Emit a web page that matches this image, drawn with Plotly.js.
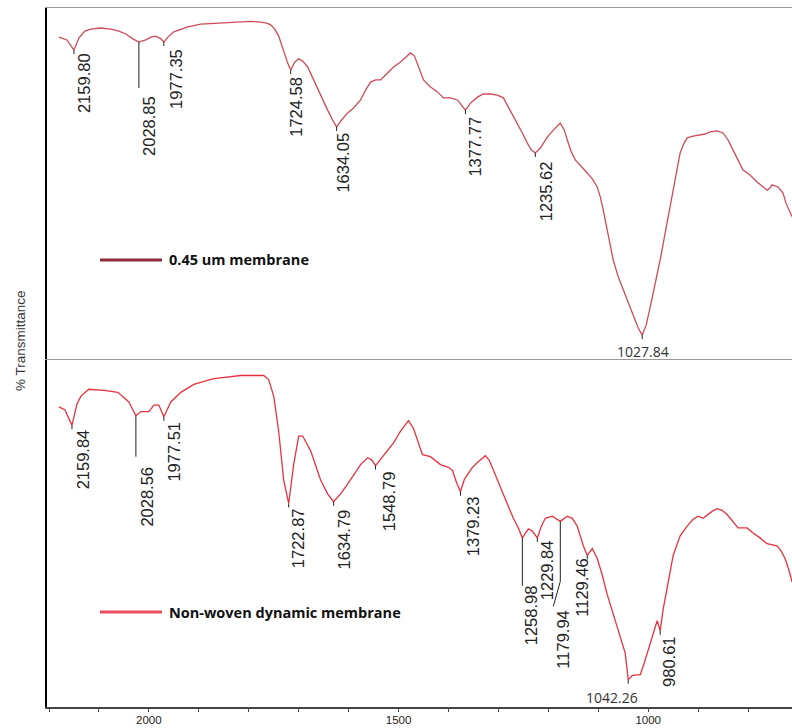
<!DOCTYPE html>
<html>
<head>
<meta charset="utf-8">
<script src="https://cdn.plot.ly/plotly-3.0.1.min.js"></script>
<style>html,body{margin:0;padding:0;background:#fff;}#chart{width:792px;height:728px;}</style>
</head>
<body>
<div id="chart"></div>
<script>
// ---- Spectrum: 0.45 um membrane (top panel) ----
const waveTop = [2180,2164,2150,2140,2128,2116,2096,2076,2060,2046,2032,2020,2006,1996,1986,1976,1970,1962,1950,1936,1922,1896,1866,1830,1796,1776,1764,1756,1748,1740,1730,1722,1716,1708,1700,1692,1682,1672,1662,1652,1642,1632,1624,1614,1602,1590,1576,1566,1556,1546,1536,1522,1510,1496,1486,1476,1468,1460,1450,1436,1422,1410,1396,1382,1372,1366,1356,1342,1330,1316,1302,1290,1276,1262,1252,1242,1234,1226,1216,1202,1190,1176,1168,1162,1154,1146,1134,1122,1112,1102,1096,1090,1080,1070,1060,1050,1040,1030,1020,1012,1004,996,986,976,966,956,946,936,928,922,910,896,886,876,862,850,840,830,820,810,796,782,772,762,756,752,740,730,724,712];
const transTop = [91.7,90.9,88.0,91.5,93.4,94.0,94.3,94.0,93.4,92.6,91.2,90.3,90.9,91.7,92.0,91.2,90.3,91.7,93.2,94.0,94.6,95.4,95.7,96.0,96.2,96.0,95.7,95.2,94.0,92.0,87.5,84.3,82.3,84.6,85.5,84.9,83.2,80.1,76.6,73.8,70.9,68.1,66.1,68.1,70.1,71.5,73.8,76.6,78.9,79.5,79.5,81.5,83.2,84.6,86.0,87.2,86.3,83.5,79.5,77.5,76.1,74.4,74.4,73.8,72.1,70.9,72.9,74.6,75.5,75.5,75.2,74.4,70.7,67.2,64.4,61.5,59.5,58.7,60.1,63.2,65.2,67.2,65.2,62.4,59.0,56.7,55.0,53.0,51.3,49.0,46.2,42.5,35.3,28.2,23.4,19.7,16.0,12.0,8.8,6.8,9.7,14.8,21.1,28.2,35.9,43.3,51.6,58.7,61.5,63.0,63.5,63.8,64.1,64.7,65.0,64.4,62.4,59.5,56.7,53.8,52.4,50.4,49.3,48.1,48.7,49.6,49.0,47.3,44.4,40.5];

// ---- Spectrum: Non-woven dynamic membrane (bottom panel) ----
const waveBot = [2180,2168,2154,2144,2136,2120,2090,2062,2040,2026,2016,2000,1990,1980,1970,1956,1936,1910,1870,1816,1770,1760,1750,1740,1730,1720,1710,1700,1692,1676,1656,1642,1630,1616,1602,1586,1576,1562,1554,1546,1534,1522,1510,1496,1480,1470,1460,1452,1436,1416,1400,1392,1384,1376,1368,1362,1352,1342,1326,1318,1310,1300,1290,1280,1270,1260,1252,1246,1240,1232,1222,1214,1206,1192,1176,1162,1152,1142,1136,1130,1122,1112,1102,1092,1082,1072,1062,1054,1046,1040,1032,1024,1016,1008,1002,992,982,976,970,962,950,936,922,910,900,890,880,872,862,852,842,830,820,810,802,790,776,762,752,742,734,726,718,712];
const transBot = [86.1,85.2,80.7,86.9,89.2,91.2,90.9,90.3,87.5,83.5,84.7,84.7,86.6,86.6,83.2,87.5,90.3,92.6,94.3,95.2,95.2,94.0,89.2,79.0,64.8,58.0,69.3,77.6,77.6,73.3,64.8,60.8,58.5,60.8,63.6,67.0,69.3,71.3,70.7,69.0,71.3,73.3,75.6,79.0,82.1,79.8,75.6,72.2,71.6,69.3,68.5,67.6,64.2,61.4,65.1,66.5,68.5,69.9,71.9,70.5,67.6,64.2,60.8,57.1,53.7,50.9,48.0,49.4,50.6,50.0,48.0,51.4,53.7,54.3,52.8,54.3,53.7,51.4,48.6,45.7,42.9,44.9,42.0,37.2,31.5,26.7,22.2,18.8,14.5,6.8,8.0,8.2,8.2,11.6,14.5,19.3,23.9,21.0,27.3,33.5,42.9,48.6,51.4,53.4,54.3,53.7,54.8,55.7,56.5,56.0,54.8,52.8,50.9,50.9,50.9,49.4,48.0,46.3,46.0,45.7,44.3,42.0,38.6,35.2];

// ---- Peak labels (position of the marked minimum on the drawn axis, label text) ----
const peakPosTop   = [2150, 2020, 1970, 1716, 1624, 1366, 1226, 1012];
const peakTextTop  = ['2159.80','2028.85','1977.35','1724.58','1634.05','1377.77','1235.62','1027.84'];
const peakPosBot   = [2154, 2026, 1970, 1720, 1630, 1546, 1376, 1252, 1222, 1176, 1122, 1040, 976];
const peakTextBot  = ['2159.84','2028.56','1977.51','1722.87','1634.79','1548.79','1379.23','1258.98','1229.84','1179.94','1129.46','1042.26','980.61'];

const seriesNames = ['0.45 um membrane', 'Non-woven dynamic membrane'];
const xTickVals = [2000, 1500, 1000];
const yTitle = '% Transmittance';

// ---- label styling (pixel offsets, not data) ----
const topStyle = {dx:[10,10,12,5,6,10,11,1], gap:[2,53,6,6,5,5,7,6], rot:[1,1,1,1,1,1,1,0], lead:[0,46,0,0,0,0,0,0]};
const botStyle = {dx:[11,11,10,10,10,13,12,9,10,3,-5,-16,9], gap:[3,50,4,4,7,5,3,46,1,88,2,7,5], rot:[1,1,1,1,1,1,1,1,1,1,1,0,1], lead:[0,41,0,0,0,0,0,48,0,60,0,0,0]};

function interp(xs, ys, x) {
  for (let i = 0; i < xs.length - 1; i++) {
    const a = xs[i], b = xs[i+1];
    if ((x <= a && x >= b) || (x >= a && x <= b)) {
      const t = (x - a) / (b - a || 1);
      return ys[i] + t * (ys[i+1] - ys[i]);
    }
  }
  return ys[ys.length-1];
}

const colTop = '#cf4a57', colBot = '#e8323f';
const traces = [
  {x: waveTop, y: transTop, xaxis: 'x2', yaxis: 'y2', type: 'scatter', mode: 'lines', name: seriesNames[0], line: {color: colTop, width: 1.3}, showlegend: false, hoverinfo: 'x+y'},
  {x: waveBot, y: transBot, xaxis: 'x', yaxis: 'y', type: 'scatter', mode: 'lines', name: seriesNames[1], line: {color: colBot, width: 1.3}, showlegend: false, hoverinfo: 'x+y'}
];

const annotations = [];
const shapes = [];
const narrow = 'Liberation Sans Narrow, Arial Narrow, Liberation Sans, Arial, sans-serif';
const rotFont = {family: narrow, size: 16.5, color: '#222'};
const horFont = {family: 'Open Sans, sans-serif', size: 14, color: '#333'};

function addPeaks(pos, txt, st, xs, ys, xr, yr) {
  pos.forEach((p, i) => {
    const yv = interp(xs, ys, p);
    annotations.push({
      x: p, y: yv, xref: xr, yref: yr, text: txt[i], showarrow: false,
      textangle: st.rot[i] ? -90 : 0, xanchor: 'center', yanchor: 'top',
      xshift: st.dx[i], yshift: -st.gap[i], font: st.rot[i] ? rotFont : horFont, borderpad: 0
    });
    shapes.push({type: 'line', xref: xr, yref: yr, xsizemode: 'pixel', ysizemode: 'pixel', xanchor: p, yanchor: yv,
      x0: 0, x1: 0, y0: 0, y1: -(st.lead[i] || 4), line: {color: '#222', width: 1}});
  });
}
addPeaks(peakPosTop, peakTextTop, topStyle, waveTop, transTop, 'x2', 'y2');
addPeaks(peakPosBot, peakTextBot, botStyle, waveBot, transBot, 'x', 'y');
{
  const p = peakPosBot[9], yv = interp(waveBot, transBot, p);
  shapes.push({type: 'line', xref: 'x', yref: 'y', xsizemode: 'pixel', ysizemode: 'pixel', xanchor: p, yanchor: yv,
    x0: 0, x1: -7, y0: -60, y1: -85, line: {color: '#222', width: 1}});
}

const legendItems = [
  {y: 0.6395, color: '#8b2d3a', text: seriesNames[0]},
  {y: 0.1359, color: '#ee4d5f', text: seriesNames[1]}
];
legendItems.forEach(it => {
  shapes.push({type: 'line', xref: 'paper', yref: 'paper', x0: 0.0711, x1: 0.1544, y0: it.y, y1: it.y, line: {color: it.color, width: 3}});
  annotations.push({xref: 'paper', yref: 'paper', x: 0.1610, y: it.y, xanchor: 'left', yanchor: 'middle', showarrow: false,
    text: '<b>' + it.text + '</b>', font: {family: 'Open Sans, sans-serif', size: 14.5, color: '#111'}});
});

annotations.push({xref: 'paper', yref: 'paper', x: -0.0362, y: 0.5236, xanchor: 'center', yanchor: 'middle', showarrow: false,
  text: yTitle, textangle: -90, font: {family: narrow, size: 13.5, color: '#333'}});

const layout = {
  width: 792, height: 728,
  margin: {l: 47, r: 0, t: 8, b: 21},
  paper_bgcolor: '#fff', plot_bgcolor: '#fff',
  showlegend: false,
  xaxis: {domain: [0, 1], anchor: 'y', range: [2204, 712], showline: true, linecolor: '#444', linewidth: 1.5,
    ticks: 'outside', ticklen: 2, tickcolor: '#444', tickvals: xTickVals, ticktext: xTickVals.map(String),
    minor: {dtick: 100, tick0: 0, ticks: 'outside', ticklen: 3, tickcolor: '#444'},
    showgrid: false, zeroline: false, tickfont: {family: 'Liberation Sans, Arial, sans-serif', size: 11.5, color: '#222'}},
  xaxis2: {domain: [0, 1], anchor: 'y2', matches: 'x', showline: true, mirror: true, linecolor: '#999', linewidth: 1.5,
    ticks: '', showticklabels: false, showgrid: false, zeroline: false},
  yaxis: {domain: [0, 0.4979], range: [-1.15, 100], showline: true, linecolor: '#000', linewidth: 2, ticks: '', showticklabels: false, showgrid: false, zeroline: false},
  yaxis2: {domain: [0.4979, 1], range: [0, 100], showline: true, linecolor: '#000', linewidth: 2, ticks: '', showticklabels: false, showgrid: false, zeroline: false},
  annotations: annotations,
  shapes: shapes
};

Plotly.newPlot('chart', traces, layout, {displayModeBar: false, staticPlot: true});
</script>
</body>
</html>
